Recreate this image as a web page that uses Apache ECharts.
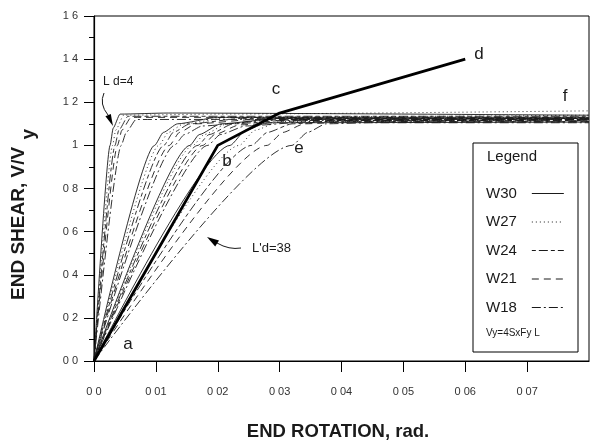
<!DOCTYPE html>
<html>
<head>
<meta charset="utf-8">
<script src="https://cdn.jsdelivr.net/npm/echarts@6/dist/echarts.min.js"></script>
<style>
  html, body { margin: 0; padding: 0; background: #fff; }
  #chart { width: 595px; height: 446px; }
</style>
</head>
<body>
<div id="chart"></div>
<script>
// tick labels as printed (decimal points lost in the original scan)
const xTickValues = [0, 0.01, 0.02, 0.03, 0.04, 0.05, 0.06, 0.07];
const xTickLabels = ["0 0", "0 01", "0 02", "0 03", "0 04", "0 05", "0 06", "0 07"];
const yTickLabels = ["0 0", "0 2", "0 4", "0 6", "0 8", "1", "1 2", "1 4", "1 6"];

const sections = ["W30", "W27", "W24", "W21", "W18"];

// L/d = 4
const w30_a = [[0, 0], [0.0026, 1.0], [0.0031, 1.08], [0.0042, 1.145], [0.012, 1.15], [0.08, 1.14]];
const w27_a = [[0, 0], [0.003, 1.0], [0.0035, 1.07], [0.0048, 1.14], [0.02, 1.145], [0.08, 1.16]];
const w24_a = [[0, 0], [0.0034, 1.0], [0.004, 1.07], [0.0055, 1.135], [0.08, 1.135]];
const w21_a = [[0, 0], [0.0038, 1.0], [0.0045, 1.07], [0.006, 1.13], [0.08, 1.13]];
const w18_a = [[0, 0], [0.0044, 1.0], [0.0052, 1.06], [0.0068, 1.12], [0.08, 1.125]];
// intermediate L/d
const w30_b = [[0, 0], [0.0098, 1.0], [0.0112, 1.06], [0.0135, 1.1], [0.02, 1.13], [0.08, 1.13]];
const w27_b = [[0, 0], [0.0105, 1.0], [0.012, 1.06], [0.0145, 1.1], [0.022, 1.13], [0.08, 1.14]];
const w24_b = [[0, 0], [0.0113, 1.0], [0.0128, 1.06], [0.0155, 1.1], [0.024, 1.125], [0.08, 1.125]];
const w21_b = [[0, 0], [0.0122, 1.0], [0.0138, 1.06], [0.0165, 1.1], [0.026, 1.12], [0.08, 1.12]];
const w18_b = [[0, 0], [0.013, 1.0], [0.0146, 1.05], [0.0175, 1.09], [0.028, 1.115], [0.08, 1.12]];
const w30_c = [[0, 0], [0.0155, 1.0], [0.017, 1.05], [0.0205, 1.1], [0.03, 1.125], [0.08, 1.125]];
const w27_c = [[0, 0], [0.016, 1.0], [0.0178, 1.05], [0.0215, 1.1], [0.032, 1.13], [0.08, 1.13]];
const w24_c = [[0, 0], [0.0168, 1.0], [0.0186, 1.05], [0.0225, 1.1], [0.033, 1.12], [0.08, 1.12]];
const w21_c = [[0, 0], [0.0176, 1.0], [0.0195, 1.05], [0.0235, 1.095], [0.034, 1.115], [0.08, 1.115]];
const w18_c = [[0, 0], [0.0184, 1.0], [0.0204, 1.05], [0.0245, 1.09], [0.035, 1.11], [0.08, 1.11]];
// L/d = 38
const w30_d = [[0, 0], [0.022, 1.0], [0.0245, 1.07], [0.028, 1.105], [0.08, 1.108]];
const w27_d = [[0, 0], [0.0235, 1.0], [0.026, 1.07], [0.03, 1.11], [0.08, 1.12]];
const w24_d = [[0, 0], [0.0255, 1.0], [0.028, 1.06], [0.032, 1.1], [0.04, 1.115], [0.08, 1.115]];
const w21_d = [[0, 0], [0.028, 1.0], [0.0305, 1.06], [0.034, 1.1], [0.042, 1.11], [0.08, 1.11]];
const w18_d = [[0, 0], [0.032, 1.0], [0.0345, 1.06], [0.0375, 1.1], [0.045, 1.105], [0.08, 1.105]];

// bounding model a-b-c-d
const boundLine = [[0, 0], [0.02, 1.0], [0.03, 1.15], [0.06, 1.4]];

const curves = {
  W30: [w30_a, w30_b, w30_c, w30_d],
  W27: [w27_a, w27_b, w27_c, w27_d],
  W24: [w24_a, w24_b, w24_c, w24_d],
  W21: [w21_a, w21_b, w21_c, w21_d],
  W18: [w18_a, w18_b, w18_c, w18_d],
};

const dashes = {
  W30: "solid",
  W27: [1, 3],
  W24: [4, 3, 9, 3],
  W21: [7, 5],
  W18: [9, 3, 2, 3],
};

const font = "Liberation Sans, Arial, sans-serif";
const ink = "#1a1a1a";

const chart = echarts.init(document.getElementById("chart"));

const series = [];
sections.forEach((name) => {
  curves[name].forEach((pts) => {
    series.push({
      name: name,
      type: "line",
      data: pts,
      symbol: "none",
      smooth: 0.2,
      smoothMonotone: "x",
      silent: true,
      itemStyle: { color: ink },
      lineStyle: { color: ink, width: 0.9, type: dashes[name] },
    });
  });
});
series.push({
  type: "line",
  data: boundLine,
  symbol: "none",
  silent: true,
  lineStyle: { color: "#000", width: 2.8 },
  z: 5,
});

const option = {
  animation: false,
  backgroundColor: "#fff",
  grid: {
    left: 94,
    right: 6,
    top: 16,
    bottom: 85,
    show: true,
    borderColor: "#000",
    borderWidth: 1,
  },
  xAxis: {
    type: "value",
    min: 0,
    max: 0.08,
    interval: 0.01,
    splitLine: { show: false },
    axisLine: { lineStyle: { color: "#000", width: 1.2 } },
    axisTick: {
      show: true,
      length: 11,
      customValues: xTickValues,
      lineStyle: { color: "#000" },
    },
    axisLabel: {
      margin: 25,
      fontFamily: font,
      fontSize: 11,
      color: "#333",
      customValues: xTickValues,
      formatter: (v) => xTickLabels[Math.round(v * 100)] || "",
    },
  },
  yAxis: {
    type: "value",
    min: 0,
    max: 1.6,
    interval: 0.2,
    splitLine: { show: false },
    axisLine: { show: true, lineStyle: { color: "#000", width: 1.2 } },
    axisTick: { show: true, length: 10, lineStyle: { color: "#000" } },
    minorTick: { show: true, splitNumber: 2, length: 5, lineStyle: { color: "#000" } },
    axisLabel: {
      margin: 16,
      fontFamily: font,
      fontSize: 11,
      color: "#333",
      formatter: (v) => yTickLabels[Math.round(v / 0.2)] || "",
    },
  },
  legend: {
    data: sections,
    orient: "vertical",
    left: 486,
    top: 186,
    padding: 0,
    itemGap: 13.5,
    itemWidth: 32,
    itemHeight: 14,
    align: "right",
    selectedMode: false,
    itemStyle: { opacity: 0 },
    lineStyle: { color: ink, width: 1 },
    textStyle: {
      fontFamily: font,
      fontSize: 15,
      color: ink,
      padding: [0, 10, 0, 0],
    },
    z: 20,
  },
  graphic: [
    {
      type: "rect",
      shape: { x: 473, y: 143, width: 105, height: 209 },
      style: { fill: "#fff", stroke: "#000", lineWidth: 1 },
      z: 10,
    },
    {
      type: "text",
      x: 487,
      y: 157,
      style: { text: "Legend", font: "15px " + font, fill: ink, verticalAlign: "middle" },
      z: 11,
    },
    {
      type: "text",
      x: 486,
      y: 333,
      style: { text: "Vy=4SxFy L", font: "10px " + font, fill: ink, verticalAlign: "middle" },
      z: 11,
    },
    // point labels
    { type: "text", x: 128, y: 344, style: { text: "a", font: "17px " + font, fill: ink, align: "center", verticalAlign: "middle" }, z: 11 },
    { type: "text", x: 227, y: 161, style: { text: "b", font: "17px " + font, fill: ink, align: "center", verticalAlign: "middle" }, z: 11 },
    { type: "text", x: 276, y: 89, style: { text: "c", font: "17px " + font, fill: ink, align: "center", verticalAlign: "middle" }, z: 11 },
    { type: "text", x: 479, y: 54, style: { text: "d", font: "17px " + font, fill: ink, align: "center", verticalAlign: "middle" }, z: 11 },
    { type: "text", x: 299, y: 148, style: { text: "e", font: "17px " + font, fill: ink, align: "center", verticalAlign: "middle" }, z: 11 },
    { type: "text", x: 565, y: 96, style: { text: "f", font: "17px " + font, fill: ink, align: "center", verticalAlign: "middle" }, z: 11 },
    // L/d callouts
    { type: "text", x: 103, y: 82, style: { text: "L d=4", font: "12px " + font, fill: ink, verticalAlign: "middle" }, z: 11 },
    {
      type: "bezierCurve",
      shape: { x1: 104, y1: 93, cpx1: 99, cpy1: 104, x2: 108, y2: 115 },
      style: { stroke: ink, lineWidth: 1, fill: null },
      z: 11,
    },
    {
      type: "polygon",
      shape: { points: [[113, 126], [110.8, 113.9], [105.4, 116.3]] },
      style: { fill: "#000" },
      z: 11,
    },
    { type: "text", x: 252, y: 248, style: { text: "L'd=38", font: "13px " + font, fill: ink, verticalAlign: "middle" }, z: 11 },
    {
      type: "bezierCurve",
      shape: { x1: 241, y1: 248, cpx1: 229, cpy1: 250, x2: 217, y2: 243 },
      style: { stroke: ink, lineWidth: 1, fill: null },
      z: 11,
    },
    {
      type: "polygon",
      shape: { points: [[207, 237], [219, 240.6], [215.2, 246.4]] },
      style: { fill: "#000" },
      z: 11,
    },
    // axis titles
    {
      type: "text",
      x: 19,
      y: 300,
      rotation: Math.PI / 2,
      style: {
        text: "END SHEAR, V/V",
        font: "bold 19px " + font,
        fill: ink,
        align: "left",
        verticalAlign: "middle",
      },
      z: 11,
    },
    {
      type: "text",
      x: 29,
      y: 129,
      rotation: Math.PI / 2,
      style: {
        text: "y",
        font: "bold 19px " + font,
        fill: ink,
        align: "right",
        verticalAlign: "middle",
      },
      z: 11,
    },
    {
      type: "text",
      x: 338,
      y: 432,
      style: {
        text: "END ROTATION, rad.",
        font: "bold 18.5px " + font,
        fill: ink,
        align: "center",
        verticalAlign: "middle",
      },
      z: 11,
    },
  ],
  series: series,
};

chart.setOption(option);
</script>
</body>
</html>
